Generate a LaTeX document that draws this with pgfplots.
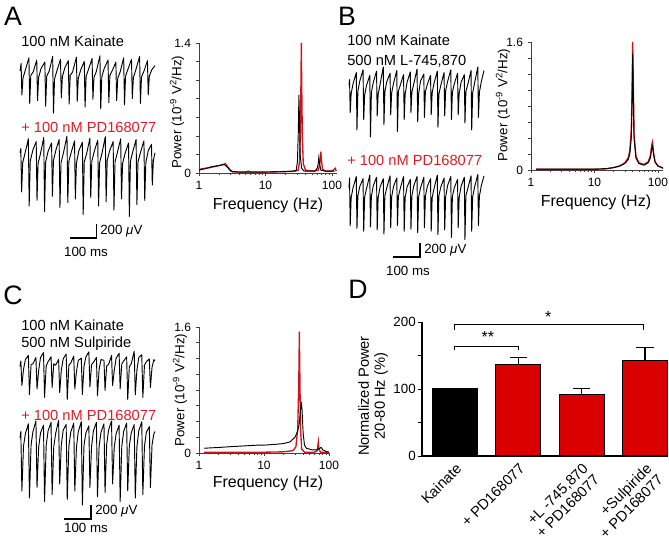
\documentclass[border=0pt]{standalone}
\usepackage{fontspec}
\setmainfont{Liberation Sans}
\setsansfont{Liberation Sans}
\usepackage{pgfplots}
\pgfplotsset{compat=1.18}

\definecolor{tred}{RGB}{222,28,36}
\definecolor{bred}{RGB}{218,0,0}
\definecolor{sred}{RGB}{205,20,28}

\newcommand\fa{\fontsize{11}{13}\selectfont}
\newcommand\fl{\fontsize{20}{20}\selectfont}
\newcommand\fy{\fontsize{10}{12}\selectfont}
\newcommand\fx{\fontsize{12}{14}\selectfont}
\newcommand\uv{200 {\itshape μ}V}

\pgfplotsset{
  mytrace/.style={scale only axis, anchor=south west, width=101.25pt, height=63pt,
    xmin=0, xmax=500, ymin=-800, ymax=400, axis lines=none, clip=false},
  mytr/.style={black, line width=0.7pt, no markers, line join=round},
  mysbar/.style={black, line width=0.8pt, no markers},
  myspec/.style={scale only axis, anchor=south west, xmin=1, ymin=0,
    axis lines*=left, xtick={1,10,100}, xticklabels={1,10,100},
    minor xtick={2,3,4,5,6,7,8,9,20,30,40,50,60,70,80,90},
    tick align=outside, major tick length=2.5pt, minor tick length=1.5pt,
    tick style={black!75, line width=0.4pt},
    axis line style={black!75, line width=0.5pt},
    ticklabel style={font=\fontsize{9}{10}\selectfont},
    clip=false},
  myk/.style={black, line width=0.7pt, no markers},
  myr/.style={sred, line width=1pt, no markers},
}

\begin{document}
\begin{tikzpicture}
\path[use as bounding box] (0,0) rectangle (501.75pt,-405.75pt);

% ---------- panel A traces ----------
\begin{axis}[mytrace, at={({20*0.75pt},{-130*0.75pt})}]
\addplot[mytr] coordinates {
(0,40)(4,150)(7,-300)(11,-60)(20,60)(33,230)(36,-420)(40,-20)(49,30)
(62,200)(65,-380)(69,-50)(78,80)(92,170)(95,-460)(99,-30)(108,40)
(121,250)(124,-560)(128,-70)(137,50)(150,210)(153,-340)(157,-40)(166,90)
(179,190)(182,-430)(186,-20)(195,30)(209,240)(212,-390)(216,-60)(225,60)
(238,180)(241,-470)(245,-30)(254,70)(267,220)(270,-360)(274,-50)(283,40)
(296,260)(299,-500)(303,-40)(312,80)(326,200)(329,-410)(333,-20)(342,50)
(355,170)(358,-380)(362,-60)(371,30)(384,230)(387,-440)(391,-30)(400,70)
(413,210)(416,-350)(420,-50)(429,60)(443,250)(446,-420)(450,-40)(459,40)
(472,190)(475,-300)(479,-30)(488,60)(500,120)};
\end{axis}
\begin{axis}[mytrace, at={({20*0.75pt},{-213*0.75pt})}]
\addplot[mytr] coordinates {
(0,60)(3,120)(6,-500)(10,-80)(19,60)(31,260)(34,-700)(38,-60)(47,90)
(60,220)(63,-620)(67,-90)(76,50)(88,280)(91,-780)(95,-70)(104,80)
(117,200)(120,-560)(124,-50)(133,100)(145,250)(148,-720)(152,-80)(161,60)
(174,300)(177,-650)(181,-60)(190,70)(202,230)(205,-600)(209,-90)(218,90)
(231,210)(234,-820)(238,-70)(247,50)(259,270)(262,-580)(266,-60)(275,80)
(288,240)(291,-700)(295,-80)(304,60)(316,290)(319,-640)(323,-50)(332,90)
(345,220)(348,-760)(352,-70)(361,70)(373,260)(376,-600)(380,-90)(389,50)
(402,200)(405,-850)(409,-60)(418,80)(430,250)(433,-680)(437,-70)(446,60)
(459,230)(462,-620)(466,-80)(475,90)(487,180)(490,-400)(494,-50)(500,60)};
\addplot[mysbar] coordinates {(185,-1157)(285,-1157)(285,-957)};
\end{axis}

% ---------- panel B traces ----------
\begin{axis}[mytrace, at={({349*0.75pt},{-144*0.75pt})}]
\addplot[mytr] coordinates {
(0,40)(2,120)(4.5,-350)(8,-80)(15,60)(27,220)(29.5,-600)(33,-40)(40,100)
(52,260)(54.5,-450)(58,-100)(65,40)(77,180)(79.5,-700)(83,-60)(90,80)
(102,240)(104.5,-400)(108,-90)(115,50)(127,300)(129.5,-520)(133,-50)(140,90)
(152,210)(154.5,-380)(158,-70)(165,70)(177,250)(179.5,-620)(183,-40)(190,40)
(202,190)(204.5,-450)(208,-90)(215,80)(227,230)(229.5,-350)(233,-60)(240,60)
(252,270)(254.5,-480)(258,-80)(265,100)(277,200)(279.5,-420)(283,-50)(290,50)
(302,180)(304.5,-380)(308,-70)(315,70)(327,240)(329.5,-560)(333,-90)(340,40)
(352,220)(354.5,-400)(358,-40)(365,90)(377,260)(379.5,-450)(383,-60)(390,60)
(402,210)(404.5,-380)(408,-80)(415,80)(427,190)(429.5,-500)(433,-50)(440,50)
(452,250)(454.5,-600)(458,-70)(465,70)(477,300)(479.5,-420)(483,-60)(490,90)
(500,250)};
\end{axis}
\begin{axis}[mytrace, at={({349*0.75pt},{-248*0.75pt})}]
\addplot[mytr] coordinates {
(0,60)(2,200)(4.5,-480)(8,-80)(15,60)(27,220)(29.5,-520)(33,-50)(40,80)
(52,190)(54.5,-560)(58,-70)(65,50)(77,240)(79.5,-500)(83,-60)(90,90)
(102,210)(104.5,-540)(108,-80)(115,70)(127,190)(129.5,-600)(133,-50)(140,60)
(152,230)(154.5,-510)(158,-70)(165,80)(177,200)(179.5,-480)(183,-60)(190,50)
(202,220)(204.5,-560)(208,-80)(215,70)(227,180)(229.5,-530)(233,-50)(240,90)
(252,220)(254.5,-580)(258,-70)(265,60)(277,210)(279.5,-510)(283,-60)(290,80)
(302,190)(304.5,-560)(308,-80)(315,50)(327,240)(329.5,-610)(333,-50)(340,70)
(352,200)(354.5,-540)(358,-70)(365,90)(377,220)(379.5,-650)(383,-60)(390,60)
(402,180)(404.5,-510)(408,-80)(415,80)(427,210)(429.5,-680)(433,-50)(440,50)
(452,230)(454.5,-560)(458,-70)(465,70)(477,250)(479.5,-480)(483,-60)(490,90)
(500,230)};
\addplot[mysbar] coordinates {(163,-929)(263,-929)(263,-729)};
\end{axis}

% ---------- panel C traces ----------
\begin{axis}[mytrace, at={({20*0.75pt},{-424*0.75pt})}]
\addplot[mytr] coordinates {
(0,20)(3,100)(7,-250)(13,-20)(20,120)(31,180)(35,-380)(41,50)(48,60)
(59,150)(63,-300)(69,-40)(76,150)(87,220)(91,-420)(97,30)(104,90)
(115,160)(119,-280)(125,60)(132,40)(143,120)(147,-350)(153,-30)(160,130)
(171,200)(175,-450)(181,40)(188,70)(199,170)(203,-300)(209,-50)(216,110)
(227,140)(231,-380)(237,20)(244,160)(255,230)(259,-270)(265,50)(272,80)
(283,150)(287,-400)(293,-20)(300,120)(311,110)(315,-320)(321,30)(328,50)
(339,180)(343,-250)(349,-40)(356,140)(367,210)(371,-300)(377,60)(384,100)
(395,160)(399,-450)(405,20)(412,60)(423,240)(427,-380)(433,-30)(440,150)
(451,190)(455,-420)(461,40)(468,90)(479,130)(483,-280)(489,10)(496,120)
(500,100)};
\end{axis}
\begin{axis}[mytrace, at={({20*0.75pt},{-498*0.75pt})}]
\addplot[mytr] coordinates {
(0,60)(3,150)(7,-700)(13,-60)(20,120)(31,260)(35,-800)(41,-40)(48,150)
(59,300)(63,-650)(69,-80)(76,130)(87,240)(91,-850)(97,-50)(104,160)
(115,280)(119,-750)(125,-70)(132,120)(143,310)(147,-600)(153,-40)(160,170)
(171,250)(175,-820)(181,-60)(188,140)(199,270)(203,-700)(209,-80)(216,150)
(227,290)(231,-900)(237,-50)(244,130)(255,230)(259,-650)(265,-70)(272,160)
(283,280)(287,-780)(293,-60)(300,140)(311,260)(315,-720)(321,-40)(328,170)
(339,300)(343,-600)(349,-80)(356,120)(367,240)(371,-850)(377,-60)(384,150)
(395,270)(399,-700)(405,-50)(412,130)(423,250)(427,-800)(433,-70)(440,160)
(451,290)(455,-750)(461,-60)(468,140)(479,220)(483,-650)(489,-40)(496,120)
(500,150)};
\addplot[mysbar] coordinates {(163,-1100)(263,-1100)(263,-900)};
\end{axis}

% ---------- spectra ----------
\begin{axis}[myspec, xmode=log, at={({199*0.75pt},{-173*0.75pt})}, width=103.5pt, height=97.5pt,
  xmax=119, ymax=1.4, ytick={0,0.2,0.4,0.6,0.8,1.0,1.2,1.4}, yticklabels={0,,,,,,,1.4}]
\addplot[myr] coordinates {
(1,0.04)(1.5,0.06)(2,0.08)(2.5,0.1)(2.8,0.05)(3.2,0.01)(5,0.01)(5.5,0.02)(6,0.01)
(10,0.01)(20,0.015)(28,0.02)(31,0.03)(32.5,0.12)(33.5,0.45)(34.2,1.0)(34.6,1.40)
(35,1.0)(35.8,0.4)(37,0.1)(40,0.03)(55,0.02)(62,0.03)(65,0.08)(67,0.16)(68,0.23)
(69.5,0.14)(72,0.04)(80,0.02)(100,0.02)(108,0.04)(112,0.05)(116,0.02)};
\addplot[myk] coordinates {
(1,0.03)(1.3,0.05)(1.6,0.07)(2,0.08)(2.4,0.09)(2.7,0.06)(3,0.02)(4,0.01)
(10,0.01)(20,0.015)(26,0.02)(29,0.03)(30.2,0.12)(31.2,0.45)(31.8,0.84)(32.4,0.6)
(33.2,0.2)(35,0.05)(38,0.02)(55,0.02)(60,0.05)(62,0.1)(63.5,0.17)(65,0.1)
(68,0.03)(80,0.02)(110,0.02)};
\end{axis}

\begin{axis}[myspec, xmode=log, at={({531*0.75pt},{-170*0.75pt})}, width=99pt, height=96pt,
  xmax=120, ymax=1.6, ytick={0,0.2,0.4,0.6,0.8,1.0,1.2,1.4,1.6}, yticklabels={0,,,,,,,,1.6}]
\addplot[myr] coordinates {
(1.2,0.01)(5,0.01)(10,0.01)(15,0.015)(20,0.03)(25,0.05)(30,0.09)(34,0.15)(36,0.24)
(38,0.5)(39,0.95)(40,1.6)(41,1.0)(42,0.45)(45,0.17)(50,0.09)(60,0.07)(70,0.1)
(76,0.18)(80,0.32)(82,0.35)(85,0.22)(90,0.1)(100,0.05)(115,0.03)(120,0.03)};
\addplot[myk] coordinates {
(1.2,0.01)(5,0.01)(10,0.01)(15,0.015)(20,0.03)(25,0.05)(30,0.08)(34,0.13)(36,0.2)
(38,0.4)(39,0.8)(40,1.45)(41,0.9)(42,0.4)(45,0.15)(50,0.08)(60,0.06)(70,0.09)
(76,0.15)(80,0.28)(82,0.3)(85,0.2)(90,0.1)(100,0.05)(115,0.03)(120,0.02)};
\end{axis}

\begin{axis}[myspec, xmode=log, at={({199*0.75pt},{-453*0.75pt})}, width=97.5pt, height=94.5pt,
  xmax=100, ymax=1.6, ytick={0,0.2,0.4,0.6,0.8,1.0,1.2,1.4,1.6}, yticklabels={0,,,,,,,,1.6}]
\addplot[myr] coordinates {
(1.2,0.01)(5,0.01)(10,0.01)(20,0.015)(28,0.03)(31,0.08)(33,0.3)(34.3,0.9)(35,1.54)
(35.7,0.9)(36.5,0.3)(38,0.05)(42,0.01)(60,0.01)(66,0.03)(68.5,0.14)(70,0.05)
(74,0.01)(90,0.01)(100,0.01)};
\addplot[myk] coordinates {
(1.2,0.06)(1.5,0.065)(2,0.07)(3,0.08)(5,0.09)(8,0.1)(10,0.1)(15,0.11)(20,0.12)
(25,0.14)(30,0.2)(33,0.28)(35,0.38)(36.5,0.55)(37.5,0.65)(38.5,0.55)(40,0.25)
(42,0.1)(45,0.06)(55,0.04)(65,0.04)(72,0.06)(76,0.07)(80,0.04)(90,0.02)(100,0.01)};
\end{axis}

% ---------- panel D ----------
\begin{axis}[at={({422*0.75pt},{-456*0.75pt})}, anchor=south west, scale only axis,
  width=183pt, height=100.5pt, xmin=-0.52, xmax=3.33, ymin=0, ymax=200,
  axis lines*=left, clip=false, ybar, bar shift=0pt, bar width=33.75pt,
  xtick={0,1,2,3},
  xticklabels={Kainate,+ PD168077,{+L -745,870\\+ PD168077},{+Sulpiride\\+ PD168077}},
  xticklabel style={rotate=45, anchor=north east, align=right, font=\fontsize{11}{12}\selectfont, inner sep=1pt},
  x tick style={draw=none},
  ytick={0,50,100,150,200}, yticklabels={0,,100,,200},
  yticklabel style={font=\fontsize{10}{11}\selectfont, inner sep=1.5pt},
  tick align=outside, major tick length=3pt,
  tick style={black, line width=0.6pt},
  axis line style={black, line width=0.8pt},
  error bars/error bar style={line width=1pt},
  error bars/error mark options={rotate=90, mark size=6.5pt, line width=1pt}]
\addplot[fill=black, draw=black, line width=0.8pt] coordinates {(0,100)};
\addplot[fill=bred, draw=black, line width=0.8pt, error bars/.cd, y dir=plus, y explicit]
  coordinates {(1,137) +- (0,10) (2,92) +- (0,9) (3,143) +- (0,19)};
\addplot[sharp plot, black, line width=0.8pt, no markers] coordinates {(0,158)(0,164)(1,164)(1,158)};
\addplot[sharp plot, black, line width=0.8pt, no markers] coordinates {(0,188)(0,196)(2.97,196)(2.97,188)};
\node[font=\fontsize{12}{12}\selectfont] at (axis cs:0.52,178) {**};
\node[font=\fontsize{12}{12}\selectfont] at (axis cs:1.47,208) {*};
\end{axis}

% ---------- text ----------
\begin{scope}[x=0.75pt, y=-0.75pt]
\node[font=\fl] at (13,16) {A};
\node[font=\fl] at (347,16) {B};
\node[font=\fl] at (13,295) {C};
\node[font=\fl] at (358,289) {D};

\node[font=\fa, anchor=west, inner sep=0] at (21,41) {100 nM Kainate};
\node[font=\fa, anchor=west, inner sep=0, text=tred] at (21,127) {+ 100 nM PD168077};
\node[font=\fy, anchor=west, inner sep=0] at (100,231) {\uv};
\node[font=\fy] at (86,252) {100 ms};

\node[font=\fa, anchor=west, inner sep=0] at (347,40) {100 nM Kainate};
\node[font=\fa, anchor=west, inner sep=0] at (347,61) {500 nM L-745,870};
\node[font=\fa, anchor=west, inner sep=0, text=tred] at (347,160) {+ 100 nM PD168077};
\node[font=\fy, anchor=west, inner sep=0] at (424,250) {\uv};
\node[font=\fy] at (408,271) {100 ms};

\node[font=\fa, anchor=west, inner sep=0] at (21,325) {100 nM Kainate};
\node[font=\fa, anchor=west, inner sep=0] at (21,344) {500 nM Sulpiride};
\node[font=\fa, anchor=west, inner sep=0, text=tred] at (21,415) {+ 100 nM PD168077};
\node[font=\fy, anchor=west, inner sep=0] at (95,511) {\uv};
\node[font=\fy] at (86,528) {100 ms};

\node[font=\fy, rotate=90] at (177,112) {Power (10\textsuperscript{-9} V\textsuperscript{2}/Hz)};
\node[font=\fy, rotate=90] at (503,105) {Power (10\textsuperscript{-9} V\textsuperscript{2}/Hz)};
\node[font=\fy, rotate=90] at (180,390) {Power (10\textsuperscript{-9} V\textsuperscript{2}/Hz)};
\node[font=\fx] at (268,205) {Frequency (Hz)};
\node[font=\fx] at (596,202) {Frequency (Hz)};
\node[font=\fx] at (268,483) {Frequency (Hz)};

\node[font=\fontsize{11}{12}\selectfont, rotate=90, align=center] at (373,396) {Normalized Power\\20-80 Hz (\%)};
\end{scope}
\end{tikzpicture}
\end{document}
